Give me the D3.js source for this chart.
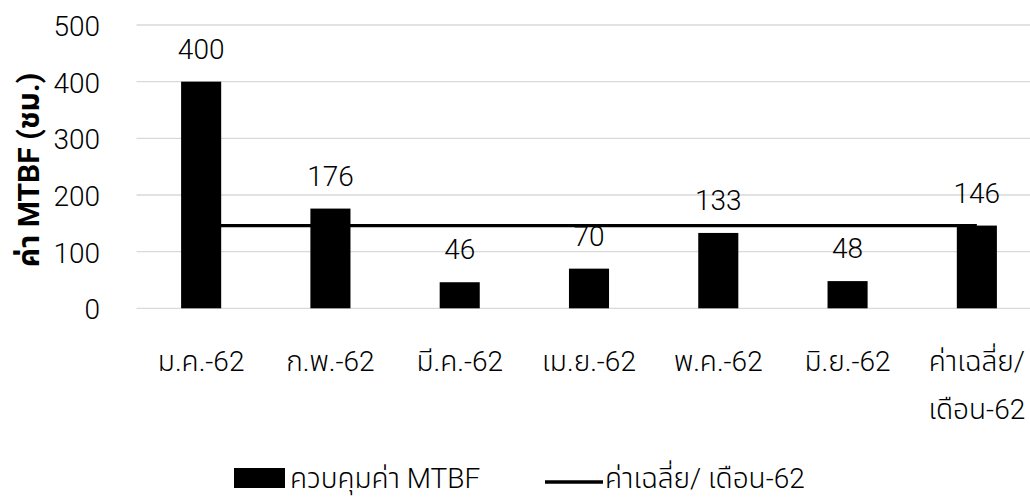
<!DOCTYPE html>
<html>
<head>
<meta charset="utf-8">
<script src="https://cdn.jsdelivr.net/npm/d3@7/dist/d3.min.js"></script>
<style>
  html, body { margin: 0; padding: 0; background: #fff; }
  svg { display: block; }
  text { font-family: Roboto, "Noto Sans Thai", "Noto Sans", sans-serif; font-weight: 300; fill: #000; }
</style>
</head>
<body>
<svg id="chart" width="1030" height="497"></svg>
<script>
// Monthly MTBF values and the monthly average
const categories = [["ม.ค.-62"], ["ก.พ.-62"], ["มี.ค.-62"], ["เม.ย.-62"], ["พ.ค.-62"], ["มิ.ย.-62"], ["ค่าเฉลี่ย/", "เดือน-62"]];
const mtbfValues = [400, 176, 46, 70, 133, 48, 146];
const averageValues = [146, 146, 146, 146, 146, 146, 146];
const yTicks = [0, 100, 200, 300, 400, 500];
const seriesNames = ["ควบคุมค่า MTBF", "ค่าเฉลี่ย/ เดือน-62"];
const yTitle = "ค่า MTBF (ชม.)";

const svg = d3.select("#chart");
const fontSize = 28;

const x = d3.scaleBand()
  .domain(d3.range(categories.length))
  .range([136.5, 1041.5])
  .paddingInner(0.69)
  .paddingOuter(0.345);

const y = d3.scaleLinear().domain([0, 500]).range([308.3, 25]);

// gridlines
svg.append("g").selectAll("line").data(yTicks).join("line")
  .attr("x1", 136.5).attr("x2", 1041.5)
  .attr("y1", d => y(d)).attr("y2", d => y(d))
  .attr("stroke", "#d9d9d9").attr("stroke-width", 1.3);

// y axis labels
const yAxis = d3.axisLeft(y).tickValues(yTicks).tickSize(0).tickPadding(0);
const yg = svg.append("g").attr("transform", "translate(100,0)").call(yAxis);
yg.select(".domain").remove();
yg.selectAll("text").attr("font-size", fontSize).attr("font-family", null).attr("dy", "0.37em");

// bars
svg.append("g").selectAll("rect").data(mtbfValues).join("rect")
  .attr("x", (d, i) => x(i))
  .attr("width", x.bandwidth())
  .attr("y", d => y(d))
  .attr("height", d => y(0) - y(d))
  .attr("fill", "#000");

// average line
const line = d3.line()
  .x((d, i) => x(i) + x.bandwidth() / 2)
  .y(d => y(d));
svg.append("path").datum(averageValues)
  .attr("d", line)
  .attr("fill", "none").attr("stroke", "#000").attr("stroke-width", 3.3);

// value labels
svg.append("g").selectAll("text").data(mtbfValues).join("text")
  .attr("x", (d, i) => x(i) + x.bandwidth() / 2)
  .attr("y", d => y(d) - 23)
  .attr("text-anchor", "middle")
  .attr("font-size", fontSize)
  .text(d => d);

// category labels
const xl = svg.append("g").selectAll("text").data(categories).join("text")
  .attr("x", (d, i) => x(i) + x.bandwidth() / 2)
  .attr("y", 371)
  .attr("text-anchor", "middle")
  .attr("font-size", fontSize);
xl.selectAll("tspan").data(d => d).join("tspan")
  .attr("x", function () { return d3.select(this.parentNode).attr("x"); })
  .attr("dy", (d, i) => i === 0 ? 0 : 48)
  .text(d => d);

// y title
svg.append("text")
  .attr("transform", "translate(39,170) rotate(-90)")
  .attr("text-anchor", "middle")
  .attr("font-size", 30)
  .style("font-weight", "bold")
  .text(yTitle);

// legend
const lg = svg.append("g");
lg.append("rect").attr("x", 234).attr("y", 468).attr("width", 51).attr("height", 20).attr("fill", "#000");
lg.append("text").attr("x", 290).attr("y", 488).attr("font-size", fontSize).text(seriesNames[0]);
lg.append("line").attr("x1", 545).attr("x2", 603).attr("y1", 482).attr("y2", 482)
  .attr("stroke", "#000").attr("stroke-width", 3.3);
lg.append("text").attr("x", 605).attr("y", 488).attr("font-size", fontSize).text(seriesNames[1]);
</script>
</body>
</html>
